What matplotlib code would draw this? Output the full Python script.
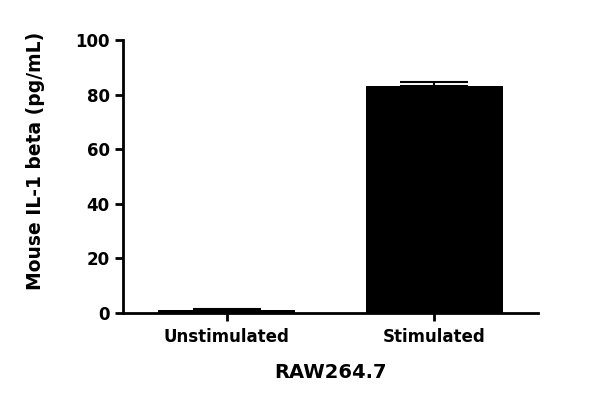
import matplotlib
matplotlib.use("Agg")
import matplotlib.pyplot as plt

categories = ["Unstimulated", "Stimulated"]
means = [1.2, 83.3]
errors = [0.4, 1.2]

plt.rcParams['font.family'] = ['DejaVu Sans']
plt.rcParams['font.weight'] = 'bold'

fig = plt.figure(figsize=(6, 4.04), dpi=100)
ax = fig.add_axes([0.205, 0.225, 0.692, 0.676])

x = list(range(len(categories)))
ax.bar(x, means, width=0.66, color='black', zorder=2)
ax.errorbar(x, means, yerr=[[0, 0], errors], fmt='none', ecolor='black',
            elinewidth=1.5, capsize=24.5, capthick=1.5, zorder=3)

ax.set_xlim(-0.5, 1.5)
ax.set_ylim(0, 100)
ax.set_yticks([0, 20, 40, 60, 80, 100])
ax.set_xticks(x)
ax.set_xticklabels(categories)

for s in ['top', 'right']:
    ax.spines[s].set_visible(False)
for s in ['left', 'bottom']:
    ax.spines[s].set_linewidth(2)

ax.tick_params(axis='both', width=2, length=6, labelsize=12, direction='out')
ax.tick_params(axis='x', pad=5)
ax.set_xlabel("RAW264.7", fontsize=14, fontweight='bold', labelpad=12)
ax.set_ylabel("Mouse IL-1 beta (pg/mL)", fontsize=13.5, fontweight='bold')
ax.yaxis.set_label_coords(-0.187, 0.557)

fig.savefig("out.png", dpi=100)
